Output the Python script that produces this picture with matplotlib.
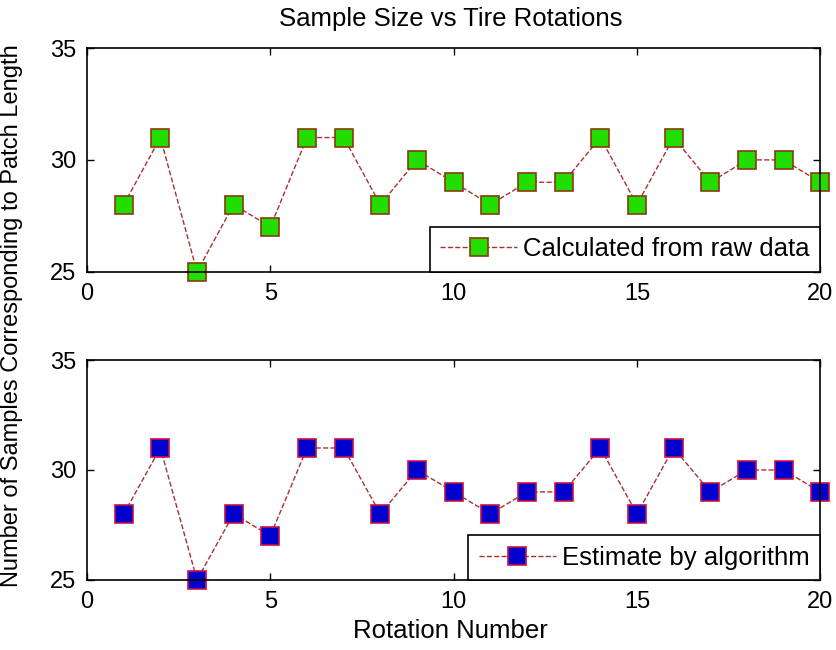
import numpy as np
import matplotlib
matplotlib.use("Agg")
import matplotlib.pyplot as plt

plt.rcParams['font.family'] = ['Liberation Sans', 'DejaVu Sans']

rotation = list(range(1, 21))
raw_samples = [28, 31, 25, 28, 27, 31, 31, 28, 30, 29, 28, 29, 29, 31, 28, 31, 29, 30, 30, 29]
est_samples = [28, 31, 25, 28, 27, 31, 31, 28, 30, 29, 28, 29, 29, 31, 28, 31, 29, 30, 30, 29]
xticks = [0, 5, 10, 15, 20]
yticks = [25, 30, 35]

fig = plt.figure(figsize=(8.37, 6.5), dpi=100)
ax1 = fig.add_axes([0.104, 0.582, 0.876, 0.344])
ax2 = fig.add_axes([0.104, 0.108, 0.876, 0.338])

line_col = "#a83232"

ax1.plot(rotation, raw_samples, linestyle="--", color=line_col, linewidth=1,
         marker="s", markersize=13, markerfacecolor="#22dd00", markeredgecolor="#8a3a10",
         markeredgewidth=1.2, clip_on=False, label="Calculated from raw data")
ax2.plot(rotation, est_samples, linestyle="--", color=line_col, linewidth=1,
         marker="s", markersize=13, markerfacecolor="#0000cc", markeredgecolor="#c8104a",
         markeredgewidth=1.2, clip_on=False, label="Estimate by algorithm")

for ax in (ax1, ax2):
    ax.set_xlim(0, 20)
    ax.set_ylim(25, 35)
    ax.set_xticks(xticks)
    ax.set_yticks(yticks)
    ax.tick_params(direction="in", top=True, right=True, labelsize=17, length=5, width=1)
    ax.tick_params(axis="y", pad=8)
    ax.tick_params(axis="x", pad=8)
    for s in ax.spines.values():
        s.set_linewidth(1.2)
    leg = ax.legend(loc="lower right", borderaxespad=0, fontsize=18.5, handlelength=3.0,
                    handletextpad=0.25, borderpad=0.4, fancybox=False, framealpha=1,
                    edgecolor="black")
    leg.get_frame().set_linewidth(1.2)

fig.text(0.539, 0.9715, "Sample Size vs Tire Rotations", fontsize=18.5, ha="center", va="center")
fig.text(0.538, 0.029, "Rotation Number", fontsize=18.5, ha="center", va="center")
fig.text(0.0145, 0.515, "Number of Samples Corresponding to Patch Length", rotation=90,
         fontsize=17, va="center", ha="center")

fig.savefig("out.png", dpi=100)
